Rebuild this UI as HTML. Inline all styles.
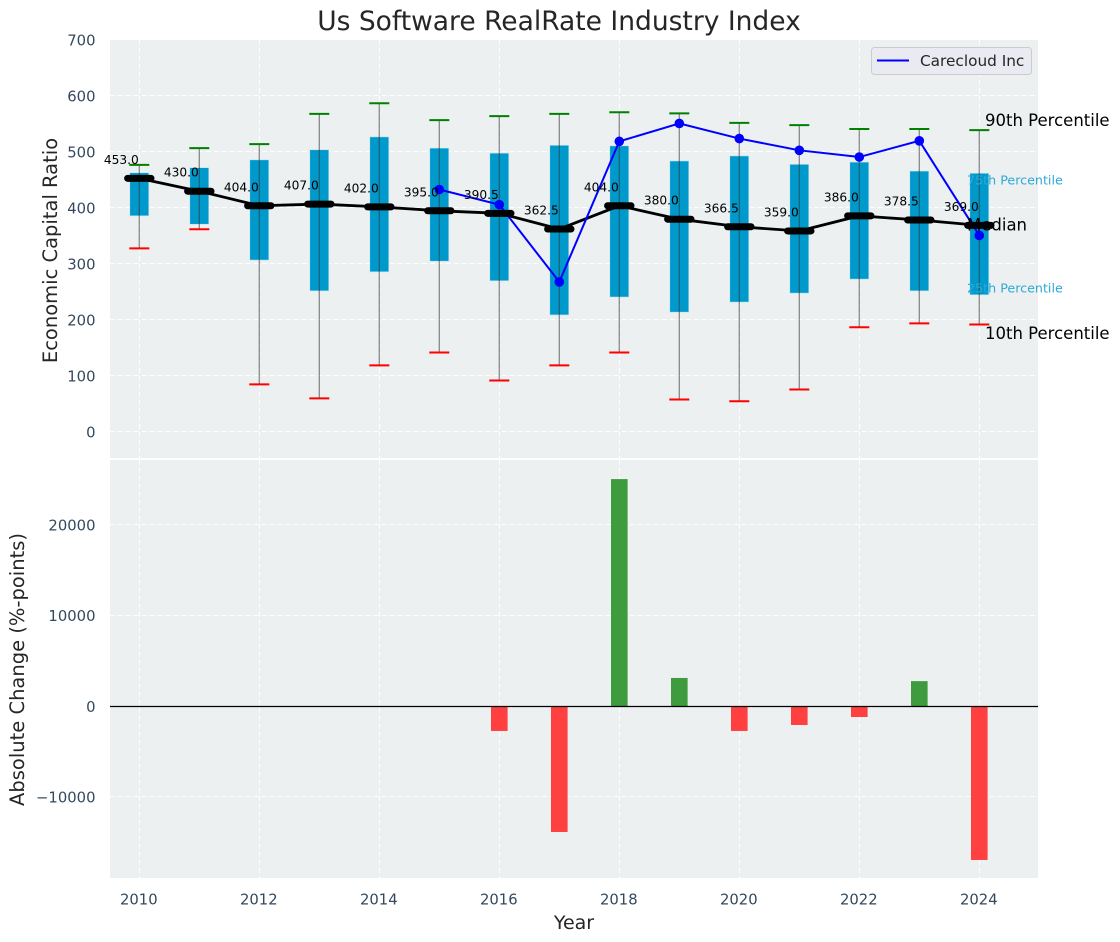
<!DOCTYPE html>
<html lang="en">
<head>
<meta charset="utf-8">
<title>Us Software RealRate Industry Index</title>
<style>
html,body{margin:0;padding:0;background:#fff;}
svg{display:block;font-family:"DejaVu Sans","Liberation Sans",sans-serif;}
</style>
</head>
<body>
<svg id="chart" width="1120" height="942" viewBox="0 0 1120 942" xmlns="http://www.w3.org/2000/svg">
  <rect x="110" y="40" width="928" height="418" fill="#ecf0f1"/>
  <rect x="110" y="460" width="928" height="418" fill="#ecf0f1"/>
  <g id="grid"></g>
  <g id="bars"></g>
  <g id="boxes"></g>
  <g id="lines"></g>
  <g id="ticks"></g>
  <g id="labels"></g>
  <text x="559" y="30" text-anchor="middle" font-size="26.5" fill="#262626">Us Software RealRate Industry Index</text>
  <text transform="translate(57,250.5) rotate(-90)" text-anchor="middle" font-size="19.5" fill="#262626">Economic Capital Ratio</text>
  <text transform="translate(24,669.5) rotate(-90)" text-anchor="middle" font-size="19.5" fill="#262626">Absolute Change (%-points)</text>
  <text x="574" y="929" text-anchor="middle" font-size="19" fill="#262626">Year</text>
  <g>
    <rect x="871.5" y="47.5" width="160" height="27" rx="3" fill="#eaeaf2" stroke="#cccccc" stroke-width="1"/>
    <line x1="877" y1="60.5" x2="909" y2="60.5" stroke="#0000ff" stroke-width="2"/>
    <text x="920" y="66" font-size="15.3" fill="#262626">Carecloud Inc</text>
  </g>
  <text x="985" y="126" font-size="16.5" fill="#000">90th Percentile</text>
  <text x="967" y="184.5" font-size="12.7" fill="#2fa9d6">75th Percentile</text>
  <text x="967" y="230.5" font-size="16.5" fill="#000">Median</text>
  <text x="967" y="292.5" font-size="12.7" fill="#2fa9d6">25th Percentile</text>
  <text x="985" y="339" font-size="16.5" fill="#000">10th Percentile</text>
</svg>
<script>
const years = [2010,2011,2012,2013,2014,2015,2016,2017,2018,2019,2020,2021,2022,2023,2024];
const p90 = [477,507,514,568,587,557,564,568,571,569,552,548,541,541,539];
const q3 = [463,472,486,504,527,507,498,512,511,484,493,478,482,466,462];
const medians = [453,430,404,407,402,395,390.5,362.5,404,380,366.5,359,386,378.5,369];
const q1 = [386,371,307,252,286,305,270,209,241,214,232,248,273,252,245];
const p10 = [328,362,85,60,119,142,92,119,142,58,55,76,187,194,192];
const companyYears = [2015,2016,2017,2018,2019,2020,2021,2022,2023,2024];
const companyValues = [433,406,268,519,551,524,503,491,520,351];
const changeYears = [2016,2017,2018,2019,2020,2021,2022,2023,2024];
const changeValues = [-2700,-13850,25100,3150,-2700,-2040,-1160,2800,-16940];
const xTickLabels = [2010,2012,2014,2016,2018,2020,2022,2024];
const topTickLabels = [0,100,200,300,400,500,600,700];
const bottomTickLabels = [-10000,0,10000,20000];

const NS = 'http://www.w3.org/2000/svg';
const xScale = function (year) { return 139.3 + (year - 2010) * 60; };
const yTop = function (v) { return 432 - v * 0.56; };
const yBottom = function (v) { return 706.5 - v * 0.00906; };
const snapX = function (x) { return Math.floor(x) + 0.5; };
const snapY = function (y) { return Math.round(y) - 0.5; };

function make(tag, parent, attrs, text) {
  const el = document.createElementNS(NS, tag);
  Object.keys(attrs).forEach(function (k) { el.setAttribute(k, attrs[k]); });
  if (text !== undefined) el.textContent = text;
  parent.appendChild(el);
  return el;
}

const grid = document.getElementById('grid');
const bars = document.getElementById('bars');
const boxes = document.getElementById('boxes');
const lines = document.getElementById('lines');
const ticks = document.getElementById('ticks');
const labels = document.getElementById('labels');
const gridStyle = {stroke:'#ffffff', 'stroke-width':1, 'stroke-dasharray':'5 3', 'stroke-opacity':0.9};

xTickLabels.forEach(function (t) {
  const gx = snapX(xScale(t));
  const top = make('line', grid, Object.assign({x1:gx, x2:gx, y1:40, y2:458}, gridStyle));
  
  
  const bottom = make('line', grid, Object.assign({x1:gx, x2:gx, y1:460, y2:878}, gridStyle));
  
  
  const label = make('text', ticks, {x:xScale(t) - 0.5, y:904.5, 'text-anchor':'middle', 'font-size':14.8, fill:'#34495e'}, String(t));
  
  
});

topTickLabels.forEach(function (t) {
  if (t < 700) {
    const gy = snapY(yTop(t));
    const g = make('line', grid, Object.assign({x1:110, x2:1038, y1:gy, y2:gy}, gridStyle));
    
    
  }
  const label = make('text', ticks, {x:95.5, y:yTop(t) + 5.3, 'text-anchor':'end', 'font-size':14.8, fill:'#34495e'}, String(t));
  
  
});

bottomTickLabels.forEach(function (t) {
  const gy = snapY(yBottom(t));
  const g = make('line', grid, Object.assign({x1:110, x2:1038, y1:gy, y2:gy}, gridStyle));
  
  
  const text = t < 0 ? '\u2212' + Math.abs(t) : String(t);
  const label = make('text', ticks, {x:95.5, y:yBottom(t) + 5.3, 'text-anchor':'end', 'font-size':14.8, fill:'#34495e'}, text);
  
  
});

changeValues.forEach(function (v, i) {
  const x = xScale(changeYears[i]);
  const y0 = yBottom(0);
  const y1 = yBottom(v);
  const bar = make('rect', bars, {x:x - 8.3, y:Math.min(y0, y1), width:16.6, height:Math.abs(y1 - y0), fill:v >= 0 ? '#3e9b3e' : '#ff4040'});
  
  
});
const zeroLine = make('line', bars, {x1:110, x2:1038, y1:yBottom(0), y2:yBottom(0), stroke:'#000', 'stroke-width':1.3});



years.forEach(function (yr, i) {
  const x = xScale(yr);
  const box = make('rect', boxes, {x:x - 9.5, y:yTop(q3[i]), width:19, height:yTop(q1[i]) - yTop(q3[i]), fill:'#0099cc', stroke:'#bfe5f2', 'stroke-width':0.6});
  
  
  const whisker = make('line', boxes, {x1:x, x2:x, y1:yTop(p90[i]), y2:yTop(p10[i]), stroke:'#333', 'stroke-opacity':0.55, 'stroke-width':1.3});
  
  
  const hi = make('line', boxes, {x1:x - 10, x2:x + 10, y1:yTop(p90[i]), y2:yTop(p90[i]), stroke:'#008000', 'stroke-width':2});
  
  
  const lo = make('line', boxes, {x1:x - 10, x2:x + 10, y1:yTop(p10[i]), y2:yTop(p10[i]), stroke:'#ff0000', 'stroke-width':2});
  
  
});

const medianPoints = years.map(function (yr, i) { return xScale(yr) + ',' + yTop(medians[i]); }).join(' ');
const medianLine = make('polyline', lines, {points:medianPoints, fill:'none', stroke:'#000', 'stroke-width':2.8});



const companyPoints = companyYears.map(function (yr, i) { return xScale(yr) + ',' + yTop(companyValues[i]); }).join(' ');
const companyLine = make('polyline', lines, {points:companyPoints, fill:'none', stroke:'#0000ff', 'stroke-width':2});



companyValues.forEach(function (v, i) {
  const dot = make('circle', lines, {cx:xScale(companyYears[i]), cy:yTop(v), r:4.8, fill:'#0000ff'});
  
  
});

years.forEach(function (yr, i) {
  const x = xScale(yr);
  const y = yTop(medians[i]);
  const bar = make('line', lines, {x1:x - 11.7, x2:x + 11.7, y1:y, y2:y, stroke:'#000', 'stroke-width':7, 'stroke-linecap':'round'});
  
  
  const label = make('text', labels, {x:x - 0.5, y:y - 14.5, 'text-anchor':'end', 'font-size':12.2, fill:'#000'}, medians[i].toFixed(1));
  
  
});
</script>
</body>
</html>
